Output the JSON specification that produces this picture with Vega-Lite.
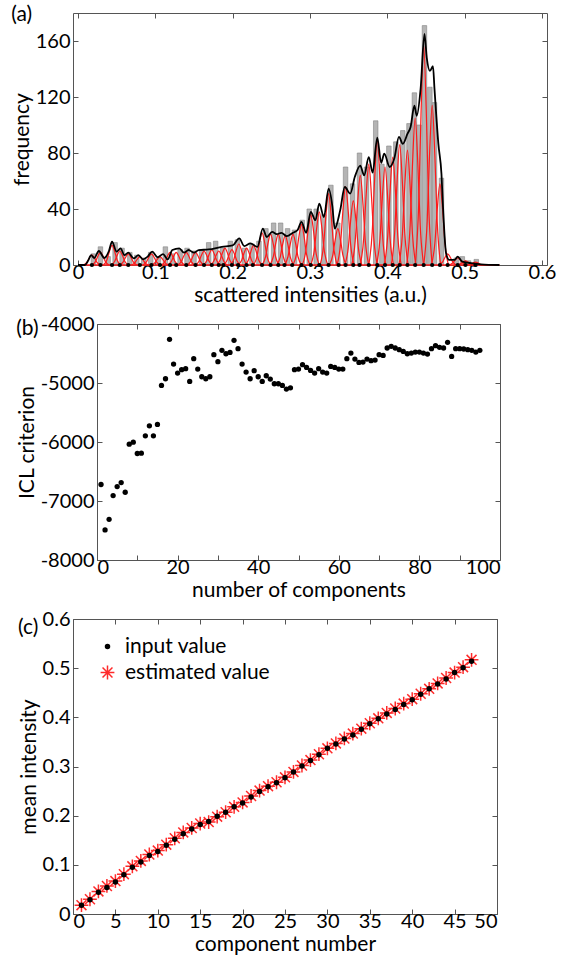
{
"$schema":"https://vega.github.io/schema/vega-lite/v6.json",
"padding":{"left":10,"top":3,"right":0,"bottom":0},
"background":"white",
"config":{"font":"Lato","view":{"stroke":"#555","strokeWidth":1},
 "axis":{"domain":false,"grid":false,"tickSize":-5,"tickColor":"#555","tickWidth":1,"labelFontSize":20,"titleFontSize":21,"titleFontWeight":"normal","labelColor":"black","titleColor":"black","labelFont":"Lato","titleFont":"Lato"},
 "axisBottom":{"labelPadding":2,"titlePadding":2},
 "axisLeft":{"labelPadding":8,"titlePadding":3},
 "title":{"fontSize":21,"fontWeight":"normal","font":"Lato","anchor":"start","frame":"bounds","offset":0,"baseline":"alphabetic"}
},
"datasets":{
"hist":[{"x":0.020,"h":8},{"x":0.029,"h":13},{"x":0.039,"h":6},{"x":0.048,"h":16},{"x":0.057,"h":12},{"x":0.067,"h":9},{"x":0.076,"h":7},{"x":0.085,"h":5},{"x":0.094,"h":9},{"x":0.104,"h":6},{"x":0.113,"h":13},{"x":0.122,"h":8},{"x":0.132,"h":11},{"x":0.141,"h":12},{"x":0.150,"h":10},{"x":0.160,"h":11},{"x":0.169,"h":16},{"x":0.178,"h":17},{"x":0.187,"h":12},{"x":0.197,"h":17},{"x":0.206,"h":18},{"x":0.215,"h":12},{"x":0.225,"h":15},{"x":0.234,"h":17},{"x":0.243,"h":26},{"x":0.253,"h":30},{"x":0.262,"h":30},{"x":0.271,"h":26},{"x":0.280,"h":25},{"x":0.290,"h":32},{"x":0.299,"h":40},{"x":0.308,"h":40},{"x":0.318,"h":36},{"x":0.327,"h":57},{"x":0.336,"h":30},{"x":0.346,"h":70},{"x":0.355,"h":58},{"x":0.364,"h":80},{"x":0.373,"h":70},{"x":0.385,"h":103},{"x":0.393,"h":72},{"x":0.402,"h":85},{"x":0.411,"h":88},{"x":0.420,"h":96},{"x":0.428,"h":101},{"x":0.435,"h":123},{"x":0.441,"h":100},{"x":0.448,"h":171},{"x":0.455,"h":127},{"x":0.461,"h":116},{"x":0.470,"h":62},{"x":0.489,"h":5},{"x":0.497,"h":6},{"x":0.505,"h":3},{"x":0.515,"h":4}],
"env":[{"x":0,"y":0},{"x":0.009,"y":0},{"x":0.013,"y":3},{"x":0.017,"y":7},{"x":0.021,"y":5},{"x":0.027,"y":10},{"x":0.034,"y":5},{"x":0.040,"y":10},{"x":0.044,"y":16.6},{"x":0.050,"y":9.5},{"x":0.055,"y":11.9},{"x":0.060,"y":7},{"x":0.065,"y":8.8},{"x":0.072,"y":4.7},{"x":0.078,"y":7},{"x":0.084,"y":4},{"x":0.090,"y":6},{"x":0.096,"y":9.5},{"x":0.103,"y":5.5},{"x":0.110,"y":7.8},{"x":0.116,"y":4},{"x":0.122,"y":10.7},{"x":0.131,"y":11.9},{"x":0.137,"y":8.8},{"x":0.143,"y":10.7},{"x":0.150,"y":8.8},{"x":0.156,"y":10.7},{"x":0.169,"y":11.1},{"x":0.186,"y":13},{"x":0.200,"y":14},{"x":0.2085,"y":19},{"x":0.215,"y":13.5},{"x":0.223,"y":15.4},{"x":0.232,"y":13},{"x":0.239,"y":26},{"x":0.244,"y":20},{"x":0.251,"y":23.7},{"x":0.257,"y":22},{"x":0.263,"y":23},{"x":0.270,"y":20.6},{"x":0.278,"y":23},{"x":0.284,"y":25},{"x":0.289,"y":30.8},{"x":0.295,"y":23},{"x":0.301,"y":37.9},{"x":0.307,"y":32},{"x":0.312,"y":43.8},{"x":0.318,"y":34.3},{"x":0.324,"y":54.5},{"x":0.329,"y":41.5},{"x":0.332,"y":26},{"x":0.339,"y":39},{"x":0.345,"y":55.7},{"x":0.352,"y":51},{"x":0.358,"y":63},{"x":0.365,"y":71},{"x":0.370,"y":64},{"x":0.376,"y":77},{"x":0.381,"y":66},{"x":0.387,"y":91},{"x":0.392,"y":73},{"x":0.396,"y":79.5},{"x":0.403,"y":70},{"x":0.409,"y":76},{"x":0.415,"y":91.5},{"x":0.420,"y":86.5},{"x":0.426,"y":93.6},{"x":0.430,"y":98.4},{"x":0.435,"y":113.8},{"x":0.438,"y":106.6},{"x":0.443,"y":125.6},{"x":0.448,"y":165},{"x":0.451,"y":148},{"x":0.455,"y":138.7},{"x":0.459,"y":142},{"x":0.461,"y":125.6},{"x":0.466,"y":86.5},{"x":0.470,"y":65},{"x":0.472,"y":41.5},{"x":0.476,"y":8.3},{"x":0.480,"y":3.6},{"x":0.487,"y":3.6},{"x":0.491,"y":6},{"x":0.497,"y":2.4},{"x":0.510,"y":1.2},{"x":0.521,"y":0.5},{"x":0.545,"y":0}],
"base":[{"x":0.007,"y":0},{"x":0.545,"y":0}],
"gauss":[
{"c":1,"x":0.007,"y":0},{"c":1,"x":0.0115,"y":1.9},{"c":1,"x":0.0145,"y":4.8},{"c":1,"x":0.018,"y":7},{"c":1,"x":0.0215,"y":4.8},{"c":1,"x":0.0245,"y":1.9},{"c":1,"x":0.029,"y":0},
{"c":2,"x":0.018,"y":0},{"c":2,"x":0.0225,"y":2.4},{"c":2,"x":0.0255,"y":6.1},{"c":2,"x":0.029,"y":9},{"c":2,"x":0.0325,"y":6.1},{"c":2,"x":0.0355,"y":2.4},{"c":2,"x":0.040,"y":0},
{"c":3,"x":0.033,"y":0},{"c":3,"x":0.0375,"y":3.8},{"c":3,"x":0.0405,"y":9.5},{"c":3,"x":0.044,"y":14},{"c":3,"x":0.0475,"y":9.5},{"c":3,"x":0.0505,"y":3.8},{"c":3,"x":0.055,"y":0},
{"c":4,"x":0.043,"y":0},{"c":4,"x":0.0475,"y":2.7},{"c":4,"x":0.0505,"y":6.8},{"c":4,"x":0.054,"y":10},{"c":4,"x":0.0575,"y":6.8},{"c":4,"x":0.0605,"y":2.7},{"c":4,"x":0.065,"y":0},
{"c":5,"x":0.054,"y":0},{"c":5,"x":0.0585,"y":2.2},{"c":5,"x":0.0615,"y":5.4},{"c":5,"x":0.065,"y":8},{"c":5,"x":0.0685,"y":5.4},{"c":5,"x":0.0715,"y":2.2},{"c":5,"x":0.076,"y":0},
{"c":6,"x":0.069,"y":0},{"c":6,"x":0.0735,"y":1.6},{"c":6,"x":0.0765,"y":4.1},{"c":6,"x":0.080,"y":6},{"c":6,"x":0.0835,"y":4.1},{"c":6,"x":0.0865,"y":1.6},{"c":6,"x":0.091,"y":0},
{"c":7,"x":0.084,"y":0},{"c":7,"x":0.0885,"y":2.2},{"c":7,"x":0.0915,"y":5.4},{"c":7,"x":0.095,"y":8},{"c":7,"x":0.0985,"y":5.4},{"c":7,"x":0.1015,"y":2.2},{"c":7,"x":0.106,"y":0},
{"c":8,"x":0.095,"y":0},{"c":8,"x":0.0995,"y":1.6},{"c":8,"x":0.1025,"y":4.1},{"c":8,"x":0.106,"y":6},{"c":8,"x":0.1095,"y":4.1},{"c":8,"x":0.1125,"y":1.6},{"c":8,"x":0.117,"y":0},
{"c":9,"x":0.108,"y":0},{"c":9,"x":0.1125,"y":2.4},{"c":9,"x":0.1155,"y":6.1},{"c":9,"x":0.119,"y":9},{"c":9,"x":0.1225,"y":6.1},{"c":9,"x":0.1255,"y":2.4},{"c":9,"x":0.130,"y":0},
{"c":10,"x":0.116,"y":0},{"c":10,"x":0.1205,"y":2.4},{"c":10,"x":0.1235,"y":6.1},{"c":10,"x":0.127,"y":9},{"c":10,"x":0.1305,"y":6.1},{"c":10,"x":0.1335,"y":2.4},{"c":10,"x":0.138,"y":0},
{"c":11,"x":0.129,"y":0},{"c":11,"x":0.1335,"y":2.4},{"c":11,"x":0.1365,"y":6.1},{"c":11,"x":0.140,"y":9},{"c":11,"x":0.1435,"y":6.1},{"c":11,"x":0.1465,"y":2.4},{"c":11,"x":0.151,"y":0},
{"c":12,"x":0.141,"y":0},{"c":12,"x":0.1455,"y":2.4},{"c":12,"x":0.1485,"y":6.1},{"c":12,"x":0.152,"y":9},{"c":12,"x":0.1555,"y":6.1},{"c":12,"x":0.1585,"y":2.4},{"c":12,"x":0.163,"y":0},
{"c":13,"x":0.152,"y":0},{"c":13,"x":0.1565,"y":2.7},{"c":13,"x":0.1595,"y":6.8},{"c":13,"x":0.163,"y":10},{"c":13,"x":0.1665,"y":6.8},{"c":13,"x":0.1695,"y":2.7},{"c":13,"x":0.174,"y":0},
{"c":14,"x":0.162,"y":0},{"c":14,"x":0.1665,"y":3},{"c":14,"x":0.1695,"y":7.5},{"c":14,"x":0.173,"y":11},{"c":14,"x":0.1765,"y":7.5},{"c":14,"x":0.1795,"y":3},{"c":14,"x":0.184,"y":0},
{"c":15,"x":0.171,"y":0},{"c":15,"x":0.1755,"y":2.7},{"c":15,"x":0.1785,"y":6.8},{"c":15,"x":0.182,"y":10},{"c":15,"x":0.1855,"y":6.8},{"c":15,"x":0.1885,"y":2.7},{"c":15,"x":0.193,"y":0},
{"c":16,"x":0.179,"y":0},{"c":16,"x":0.1835,"y":3.2},{"c":16,"x":0.1865,"y":8.2},{"c":16,"x":0.190,"y":12},{"c":16,"x":0.1935,"y":8.2},{"c":16,"x":0.1965,"y":3.2},{"c":16,"x":0.201,"y":0},
{"c":17,"x":0.188,"y":0},{"c":17,"x":0.1925,"y":3},{"c":17,"x":0.1955,"y":7.5},{"c":17,"x":0.199,"y":11},{"c":17,"x":0.2025,"y":7.5},{"c":17,"x":0.2055,"y":3},{"c":17,"x":0.210,"y":0},
{"c":18,"x":0.197,"y":0},{"c":18,"x":0.2015,"y":4},{"c":18,"x":0.2045,"y":10.2},{"c":18,"x":0.208,"y":15},{"c":18,"x":0.2115,"y":10.2},{"c":18,"x":0.2145,"y":4},{"c":18,"x":0.219,"y":0},
{"c":19,"x":0.207,"y":0},{"c":19,"x":0.2115,"y":3.2},{"c":19,"x":0.2145,"y":8.2},{"c":19,"x":0.218,"y":12},{"c":19,"x":0.2215,"y":8.2},{"c":19,"x":0.2245,"y":3.2},{"c":19,"x":0.229,"y":0},
{"c":20,"x":0.216,"y":0},{"c":20,"x":0.2205,"y":3.8},{"c":20,"x":0.2235,"y":9.5},{"c":20,"x":0.227,"y":14},{"c":20,"x":0.2305,"y":9.5},{"c":20,"x":0.2335,"y":3.8},{"c":20,"x":0.238,"y":0},
{"c":21,"x":0.227,"y":0},{"c":21,"x":0.2315,"y":6.2},{"c":21,"x":0.2345,"y":15.6},{"c":21,"x":0.238,"y":23},{"c":21,"x":0.2415,"y":15.6},{"c":21,"x":0.2445,"y":6.2},{"c":21,"x":0.249,"y":0},
{"c":22,"x":0.238,"y":0},{"c":22,"x":0.2425,"y":5.9},{"c":22,"x":0.2455,"y":15},{"c":22,"x":0.249,"y":22},{"c":22,"x":0.2525,"y":15},{"c":22,"x":0.2555,"y":5.9},{"c":22,"x":0.260,"y":0},
{"c":23,"x":0.248,"y":0},{"c":23,"x":0.2525,"y":5.9},{"c":23,"x":0.2555,"y":15},{"c":23,"x":0.259,"y":22},{"c":23,"x":0.2625,"y":15},{"c":23,"x":0.2655,"y":5.9},{"c":23,"x":0.270,"y":0},
{"c":24,"x":0.257,"y":0},{"c":24,"x":0.2615,"y":5.7},{"c":24,"x":0.2645,"y":14.3},{"c":24,"x":0.268,"y":21},{"c":24,"x":0.2715,"y":14.3},{"c":24,"x":0.2745,"y":5.7},{"c":24,"x":0.279,"y":0},
{"c":25,"x":0.267,"y":0},{"c":25,"x":0.2715,"y":5.9},{"c":25,"x":0.2745,"y":15},{"c":25,"x":0.278,"y":22},{"c":25,"x":0.2815,"y":15},{"c":25,"x":0.2845,"y":5.9},{"c":25,"x":0.289,"y":0},
{"c":26,"x":0.278,"y":0},{"c":26,"x":0.2825,"y":7.8},{"c":26,"x":0.2855,"y":19.7},{"c":26,"x":0.289,"y":29},{"c":26,"x":0.2925,"y":19.7},{"c":26,"x":0.2955,"y":7.8},{"c":26,"x":0.300,"y":0},
{"c":27,"x":0.290,"y":0},{"c":27,"x":0.2945,"y":9.7},{"c":27,"x":0.2975,"y":24.5},{"c":27,"x":0.301,"y":36},{"c":27,"x":0.3045,"y":24.5},{"c":27,"x":0.3075,"y":9.7},{"c":27,"x":0.312,"y":0},
{"c":28,"x":0.301,"y":0},{"c":28,"x":0.3055,"y":10.3},{"c":28,"x":0.3085,"y":25.8},{"c":28,"x":0.312,"y":38},{"c":28,"x":0.3155,"y":25.8},{"c":28,"x":0.3185,"y":10.3},{"c":28,"x":0.323,"y":0},
{"c":29,"x":0.313,"y":0},{"c":29,"x":0.3175,"y":13.8},{"c":29,"x":0.3205,"y":34.7},{"c":29,"x":0.324,"y":51},{"c":29,"x":0.3275,"y":34.7},{"c":29,"x":0.3305,"y":13.8},{"c":29,"x":0.335,"y":0},
{"c":30,"x":0.325,"y":0},{"c":30,"x":0.3295,"y":7},{"c":30,"x":0.3325,"y":17.7},{"c":30,"x":0.336,"y":26},{"c":30,"x":0.3395,"y":17.7},{"c":30,"x":0.3425,"y":7},{"c":30,"x":0.347,"y":0},
{"c":31,"x":0.335,"y":0},{"c":31,"x":0.3395,"y":15.1},{"c":31,"x":0.3425,"y":38.1},{"c":31,"x":0.346,"y":56},{"c":31,"x":0.3495,"y":38.1},{"c":31,"x":0.3525,"y":15.1},{"c":31,"x":0.357,"y":0},
{"c":32,"x":0.345,"y":0},{"c":32,"x":0.3495,"y":12.4},{"c":32,"x":0.3525,"y":31.3},{"c":32,"x":0.356,"y":46},{"c":32,"x":0.3595,"y":31.3},{"c":32,"x":0.3625,"y":12.4},{"c":32,"x":0.367,"y":0},
{"c":33,"x":0.354,"y":0},{"c":33,"x":0.3585,"y":17.3},{"c":33,"x":0.3615,"y":43.5},{"c":33,"x":0.365,"y":64},{"c":33,"x":0.3685,"y":43.5},{"c":33,"x":0.3715,"y":17.3},{"c":33,"x":0.376,"y":0},
{"c":34,"x":0.365,"y":0},{"c":34,"x":0.3695,"y":19.4},{"c":34,"x":0.3725,"y":49},{"c":34,"x":0.376,"y":72},{"c":34,"x":0.3795,"y":49},{"c":34,"x":0.3825,"y":19.4},{"c":34,"x":0.387,"y":0},
{"c":35,"x":0.376,"y":0},{"c":35,"x":0.3805,"y":24},{"c":35,"x":0.3835,"y":60.5},{"c":35,"x":0.387,"y":89},{"c":35,"x":0.3905,"y":60.5},{"c":35,"x":0.3935,"y":24},{"c":35,"x":0.398,"y":0},
{"c":36,"x":0.386,"y":0},{"c":36,"x":0.3905,"y":18.9},{"c":36,"x":0.3935,"y":47.6},{"c":36,"x":0.397,"y":70},{"c":36,"x":0.4005,"y":47.6},{"c":36,"x":0.4035,"y":18.9},{"c":36,"x":0.408,"y":0},
{"c":37,"x":0.396,"y":0},{"c":37,"x":0.4005,"y":20.8},{"c":37,"x":0.4035,"y":52.4},{"c":37,"x":0.407,"y":77},{"c":37,"x":0.4105,"y":52.4},{"c":37,"x":0.4135,"y":20.8},{"c":37,"x":0.418,"y":0},
{"c":38,"x":0.405,"y":0},{"c":38,"x":0.4095,"y":23.2},{"c":38,"x":0.4125,"y":58.5},{"c":38,"x":0.416,"y":86},{"c":38,"x":0.4195,"y":58.5},{"c":38,"x":0.4225,"y":23.2},{"c":38,"x":0.427,"y":0},
{"c":39,"x":0.415,"y":0},{"c":39,"x":0.4195,"y":22.1},{"c":39,"x":0.4225,"y":55.8},{"c":39,"x":0.426,"y":82},{"c":39,"x":0.4295,"y":55.8},{"c":39,"x":0.4325,"y":22.1},{"c":39,"x":0.437,"y":0},
{"c":40,"x":0.425,"y":0},{"c":40,"x":0.4295,"y":28.4},{"c":40,"x":0.4325,"y":71.4},{"c":40,"x":0.436,"y":105},{"c":40,"x":0.4395,"y":71.4},{"c":40,"x":0.4425,"y":28.4},{"c":40,"x":0.447,"y":0},
{"c":41,"x":0.436,"y":0},{"c":41,"x":0.4405,"y":42.4},{"c":41,"x":0.4435,"y":106.8},{"c":41,"x":0.447,"y":157},{"c":41,"x":0.4505,"y":106.8},{"c":41,"x":0.4535,"y":42.4},{"c":41,"x":0.458,"y":0},
{"c":42,"x":0.447,"y":0},{"c":42,"x":0.4515,"y":30.8},{"c":42,"x":0.4545,"y":77.5},{"c":42,"x":0.458,"y":114},{"c":42,"x":0.4615,"y":77.5},{"c":42,"x":0.4645,"y":30.8},{"c":42,"x":0.469,"y":0},
{"c":43,"x":0.457,"y":0},{"c":43,"x":0.4615,"y":15.7},{"c":43,"x":0.4645,"y":39.4},{"c":43,"x":0.468,"y":58},{"c":43,"x":0.4715,"y":39.4},{"c":43,"x":0.4745,"y":15.7},{"c":43,"x":0.479,"y":0},
{"c":44,"x":0.467,"y":0},{"c":44,"x":0.4715,"y":2.2},{"c":44,"x":0.4745,"y":5.4},{"c":44,"x":0.478,"y":8},{"c":44,"x":0.4815,"y":5.4},{"c":44,"x":0.4845,"y":2.2},{"c":44,"x":0.489,"y":0},
{"c":45,"x":0.480,"y":0},{"c":45,"x":0.4845,"y":1.4},{"c":45,"x":0.4875,"y":3.4},{"c":45,"x":0.491,"y":5},{"c":45,"x":0.4945,"y":3.4},{"c":45,"x":0.4975,"y":1.4},{"c":45,"x":0.502,"y":0},
{"c":46,"x":0.490,"y":0},{"c":46,"x":0.4945,"y":0.8},{"c":46,"x":0.4975,"y":2},{"c":46,"x":0.501,"y":3},{"c":46,"x":0.5045,"y":2},{"c":46,"x":0.5075,"y":0.8},{"c":46,"x":0.512,"y":0},
{"c":47,"x":0.503,"y":0},{"c":47,"x":0.5075,"y":0.5},{"c":47,"x":0.5105,"y":1.4},{"c":47,"x":0.514,"y":2},{"c":47,"x":0.5175,"y":1.4},{"c":47,"x":0.5205,"y":0.5},{"c":47,"x":0.525,"y":0}
],
"icl":[{"n":1,"v":-6720},{"n":2,"v":-7490},{"n":3,"v":-7310},{"n":4,"v":-6908},{"n":5,"v":-6755},{"n":6,"v":-6688},{"n":7,"v":-6852},{"n":8,"v":-6037},{"n":9,"v":-6003},{"n":10,"v":-6195},{"n":11,"v":-6190},{"n":12,"v":-5895},{"n":13,"v":-5726},{"n":14,"v":-5895},{"n":15,"v":-5703},{"n":16,"v":-5041},{"n":17,"v":-4928},{"n":18,"v":-4260},{"n":19,"v":-4679},{"n":20,"v":-4832},{"n":21,"v":-4775},{"n":22,"v":-4758},{"n":23,"v":-4973},{"n":24,"v":-4588},{"n":25,"v":-4764},{"n":26,"v":-4894},{"n":27,"v":-4928},{"n":28,"v":-4894},{"n":29,"v":-4520},{"n":30,"v":-4639},{"n":31,"v":-4447},{"n":32,"v":-4504},{"n":33,"v":-4481},{"n":34,"v":-4277},{"n":35,"v":-4419},{"n":36,"v":-4679},{"n":37,"v":-4815},{"n":38,"v":-4928},{"n":39,"v":-4792},{"n":40,"v":-4894},{"n":41,"v":-4973},{"n":42,"v":-4877},{"n":43,"v":-4934},{"n":44,"v":-5013},{"n":45,"v":-5013},{"n":46,"v":-5041},{"n":47,"v":-5103},{"n":48,"v":-5081},{"n":49,"v":-4775},{"n":50,"v":-4764},{"n":51,"v":-4690},{"n":52,"v":-4736},{"n":53,"v":-4787},{"n":54,"v":-4832},{"n":55,"v":-4758},{"n":56,"v":-4815},{"n":57,"v":-4832},{"n":58,"v":-4719},{"n":59,"v":-4736},{"n":60,"v":-4764},{"n":61,"v":-4764},{"n":62,"v":-4588},{"n":63,"v":-4492},{"n":64,"v":-4594},{"n":65,"v":-4651},{"n":66,"v":-4645},{"n":67,"v":-4594},{"n":68,"v":-4622},{"n":69,"v":-4611},{"n":70,"v":-4520},{"n":71,"v":-4532},{"n":72,"v":-4407},{"n":73,"v":-4379},{"n":74,"v":-4407},{"n":75,"v":-4436},{"n":76,"v":-4464},{"n":77,"v":-4504},{"n":78,"v":-4492},{"n":79,"v":-4475},{"n":80,"v":-4475},{"n":81,"v":-4492},{"n":82,"v":-4509},{"n":83,"v":-4419},{"n":84,"v":-4368},{"n":85,"v":-4396},{"n":86,"v":-4407},{"n":87,"v":-4311},{"n":88,"v":-4549},{"n":89,"v":-4419},{"n":90,"v":-4419},{"n":91,"v":-4424},{"n":92,"v":-4436},{"n":93,"v":-4447},{"n":94,"v":-4475},{"n":95,"v":-4447}],
"pc":[
{"n":1,"v":0.018,"s":"estimated value"},{"n":2,"v":0.030,"s":"estimated value"},{"n":3,"v":0.046,"s":"estimated value"},{"n":4,"v":0.057,"s":"estimated value"},{"n":5,"v":0.067,"s":"estimated value"},{"n":6,"v":0.081,"s":"estimated value"},{"n":7,"v":0.097,"s":"estimated value"},{"n":8,"v":0.108,"s":"estimated value"},{"n":9,"v":0.121,"s":"estimated value"},{"n":10,"v":0.129,"s":"estimated value"},{"n":11,"v":0.141,"s":"estimated value"},{"n":12,"v":0.154,"s":"estimated value"},{"n":13,"v":0.166,"s":"estimated value"},{"n":14,"v":0.175,"s":"estimated value"},{"n":15,"v":0.184,"s":"estimated value"},{"n":16,"v":0.187,"s":"estimated value"},{"n":17,"v":0.198,"s":"estimated value"},{"n":18,"v":0.207,"s":"estimated value"},{"n":19,"v":0.218,"s":"estimated value"},{"n":20,"v":0.227,"s":"estimated value"},{"n":21,"v":0.240,"s":"estimated value"},{"n":22,"v":0.251,"s":"estimated value"},{"n":23,"v":0.260,"s":"estimated value"},{"n":24,"v":0.268,"s":"estimated value"},{"n":25,"v":0.278,"s":"estimated value"},{"n":26,"v":0.289,"s":"estimated value"},{"n":27,"v":0.302,"s":"estimated value"},{"n":28,"v":0.313,"s":"estimated value"},{"n":29,"v":0.325,"s":"estimated value"},{"n":30,"v":0.337,"s":"estimated value"},{"n":31,"v":0.347,"s":"estimated value"},{"n":32,"v":0.357,"s":"estimated value"},{"n":33,"v":0.367,"s":"estimated value"},{"n":34,"v":0.377,"s":"estimated value"},{"n":35,"v":0.388,"s":"estimated value"},{"n":36,"v":0.398,"s":"estimated value"},{"n":37,"v":0.409,"s":"estimated value"},{"n":38,"v":0.418,"s":"estimated value"},{"n":39,"v":0.428,"s":"estimated value"},{"n":40,"v":0.437,"s":"estimated value"},{"n":41,"v":0.448,"s":"estimated value"},{"n":42,"v":0.458,"s":"estimated value"},{"n":43,"v":0.469,"s":"estimated value"},{"n":44,"v":0.480,"s":"estimated value"},{"n":45,"v":0.491,"s":"estimated value"},{"n":46,"v":0.502,"s":"estimated value"},{"n":47,"v":0.517,"s":"estimated value"},
{"n":1,"v":0.018,"s":"input value"},{"n":2,"v":0.029,"s":"input value"},{"n":3,"v":0.044,"s":"input value"},{"n":4,"v":0.054,"s":"input value"},{"n":5,"v":0.065,"s":"input value"},{"n":6,"v":0.080,"s":"input value"},{"n":7,"v":0.095,"s":"input value"},{"n":8,"v":0.106,"s":"input value"},{"n":9,"v":0.119,"s":"input value"},{"n":10,"v":0.127,"s":"input value"},{"n":11,"v":0.140,"s":"input value"},{"n":12,"v":0.152,"s":"input value"},{"n":13,"v":0.163,"s":"input value"},{"n":14,"v":0.173,"s":"input value"},{"n":15,"v":0.182,"s":"input value"},{"n":16,"v":0.188,"s":"input value"},{"n":17,"v":0.199,"s":"input value"},{"n":18,"v":0.207,"s":"input value"},{"n":19,"v":0.218,"s":"input value"},{"n":20,"v":0.226,"s":"input value"},{"n":21,"v":0.238,"s":"input value"},{"n":22,"v":0.249,"s":"input value"},{"n":23,"v":0.259,"s":"input value"},{"n":24,"v":0.267,"s":"input value"},{"n":25,"v":0.277,"s":"input value"},{"n":26,"v":0.289,"s":"input value"},{"n":27,"v":0.301,"s":"input value"},{"n":28,"v":0.312,"s":"input value"},{"n":29,"v":0.324,"s":"input value"},{"n":30,"v":0.337,"s":"input value"},{"n":31,"v":0.346,"s":"input value"},{"n":32,"v":0.356,"s":"input value"},{"n":33,"v":0.364,"s":"input value"},{"n":34,"v":0.376,"s":"input value"},{"n":35,"v":0.387,"s":"input value"},{"n":36,"v":0.397,"s":"input value"},{"n":37,"v":0.407,"s":"input value"},{"n":38,"v":0.416,"s":"input value"},{"n":39,"v":0.426,"s":"input value"},{"n":40,"v":0.436,"s":"input value"},{"n":41,"v":0.447,"s":"input value"},{"n":42,"v":0.458,"s":"input value"},{"n":43,"v":0.468,"s":"input value"},{"n":44,"v":0.478,"s":"input value"},{"n":45,"v":0.491,"s":"input value"},{"n":46,"v":0.501,"s":"input value"},{"n":47,"v":0.514,"s":"input value"}
]
},
"vconcat":[
{
 "width":474,"height":252,
 "title":{"text":"(a)","dy":16},
 "layer":[
  {"data":{"name":"hist"},"mark":{"type":"bar","width":4.5,"fill":"#b4b4b4","stroke":"#858585","strokeWidth":0.6},
   "encoding":{"x":{"field":"x","type":"quantitative","scale":{"domain":[0,0.6],"nice":false,"zero":false},"axis":{"orient":"bottom","title":"scattered intensities (a.u.)","values":[0,0.1,0.2,0.3,0.4,0.5,0.6],"format":".1~f"}},
    "y":{"field":"h","type":"quantitative","scale":{"domain":[0,180],"nice":false},"axis":{"orient":"left","title":"frequency","values":[0,40,80,120,160]}}}},
  {"data":{"name":"gauss"},"mark":{"type":"line","color":"#ff1a1a","strokeWidth":1.2,"interpolate":"monotone"},
   "encoding":{"x":{"field":"x","type":"quantitative","scale":{"domain":[0,0.6],"nice":false,"zero":false},"axis":{"orient":"top","labels":false,"title":null,"values":[0,0.1,0.2,0.3,0.4,0.5,0.6]}},
    "y":{"field":"y","type":"quantitative","scale":{"domain":[0,180],"nice":false},"axis":{"orient":"right","labels":false,"title":null,"values":[0,40,80,120,160]}},
    "detail":{"field":"c"}}},
  {"data":{"name":"base"},"mark":{"type":"line","color":"#ff1a1a","strokeWidth":1.5},
   "encoding":{"x":{"field":"x","type":"quantitative","scale":{"domain":[0,0.6],"nice":false,"zero":false},"axis":null},
    "y":{"field":"y","type":"quantitative","scale":{"domain":[0,180],"nice":false},"axis":null}}},
  {"data":{"name":"env"},"mark":{"type":"line","color":"black","strokeWidth":1.8,"interpolate":"monotone"},
   "encoding":{"x":{"field":"x","type":"quantitative","scale":{"domain":[0,0.6],"nice":false,"zero":false},"axis":null},
    "y":{"field":"y","type":"quantitative","scale":{"domain":[0,180],"nice":false},"axis":null}}},
  {"data":{"name":"pc"},"transform":[{"filter":"datum.s == 'input value'"}],"mark":{"type":"point","filled":true,"color":"black","size":18,"opacity":1},
   "encoding":{"x":{"field":"v","type":"quantitative","scale":{"domain":[0,0.6],"nice":false,"zero":false},"axis":null},
    "y":{"datum":0,"type":"quantitative","scale":{"domain":[0,180],"nice":false},"axis":null}}}
 ],
 "resolve":{"axis":{"x":"independent","y":"independent"}}
},
{
 "hconcat":[
  {"width":4,"height":236,"data":{"values":[{"k":1}]},"mark":{"type":"point","opacity":0},"encoding":{},"view":{"stroke":null}},
  {
   "width":403,"height":236,
   "title":{"text":"(b)","dy":29,"offset":4},
   "data":{"name":"icl"},
   "layer":[
    {"mark":{"type":"point","filled":true,"color":"black","size":28,"opacity":1},
     "encoding":{"x":{"field":"n","type":"quantitative","scale":{"domain":[0,100],"nice":false},"axis":{"orient":"bottom","title":"number of components","values":[0,10,20,30,40,50,60,70,80,90,100],"labelExpr":"datum.value % 20 == 0 ? '' + datum.value : ''"}},
      "y":{"field":"v","type":"quantitative","scale":{"domain":[-8000,-4000],"nice":false,"zero":false},"axis":{"orient":"left","title":"ICL criterion","values":[-8000,-7000,-6000,-5000,-4000],"labelExpr":"'' + datum.value"}}}},
    {"mark":{"type":"point","filled":true,"opacity":0},
     "encoding":{"x":{"field":"n","type":"quantitative","scale":{"domain":[0,100],"nice":false},"axis":{"orient":"top","labels":false,"title":null,"values":[0,10,20,30,40,50,60,70,80,90,100]}},
      "y":{"field":"v","type":"quantitative","scale":{"domain":[-8000,-4000],"nice":false,"zero":false},"axis":{"orient":"right","labels":false,"title":null,"values":[-8000,-7000,-6000,-5000,-4000]}}}}
   ],
   "resolve":{"axis":{"x":"independent","y":"independent"}}
  }
 ],
 "spacing":20,
 "bounds":"flush"
},
{
 "width":424,"height":295,
 "title":{"text":"(c)","dy":25,"offset":-4},
 "data":{"name":"pc"},
 "layer":[
  {"mark":{"type":"point","strokeWidth":1.5,"opacity":1},
   "encoding":{"x":{"field":"n","type":"quantitative","scale":{"domain":[0,50],"nice":false},"axis":{"orient":"bottom","title":"component number","values":[0,5,10,15,20,25,30,35,40,45,50]}},
    "y":{"field":"v","type":"quantitative","scale":{"domain":[0,0.6],"nice":false},"axis":{"orient":"left","title":"mean intensity","values":[0,0.1,0.2,0.3,0.4,0.5,0.6],"format":".1~f"}},
    "shape":{"field":"s","type":"nominal","scale":{"domain":["input value","estimated value"],"range":["circle","M0,-1V1M-1,0H1M-0.72,-0.72L0.72,0.72M-0.72,0.72L0.72,-0.72"]},"legend":{"title":null,"orient":"none","legendX":24,"legendY":17,"labelFontSize":21,"labelFont":"Lato","labelColor":"black","padding":0,"rowPadding":4,"labelOffset":7,"symbolStrokeWidth":1.5}},
    "fill":{"field":"s","type":"nominal","scale":{"domain":["input value","estimated value"],"range":["black","transparent"]},"legend":{"title":null}},
    "stroke":{"field":"s","type":"nominal","scale":{"domain":["input value","estimated value"],"range":["black","#ff2a2a"]},"legend":{"title":null}},
    "size":{"field":"s","type":"nominal","scale":{"domain":["input value","estimated value"],"range":[16,190]},"legend":{"title":null}}}},
  {"transform":[{"filter":"datum.s == 'input value'"}],"mark":{"type":"point","filled":true,"color":"black","size":22,"opacity":0},
   "encoding":{"x":{"field":"n","type":"quantitative","scale":{"domain":[0,50],"nice":false},"axis":{"orient":"top","labels":false,"title":null,"values":[0,5,10,15,20,25,30,35,40,45,50]}},
    "y":{"field":"v","type":"quantitative","scale":{"domain":[0,0.6],"nice":false},"axis":{"orient":"right","labels":false,"title":null,"values":[0,0.1,0.2,0.3,0.4,0.5,0.6]}}}}
 ],
 "resolve":{"axis":{"x":"independent","y":"independent"}}
}
],
"spacing":7,
"bounds":"full",
"resolve":{"legend":{"shape":"independent","fill":"independent","stroke":"independent","size":"independent"}}
}
